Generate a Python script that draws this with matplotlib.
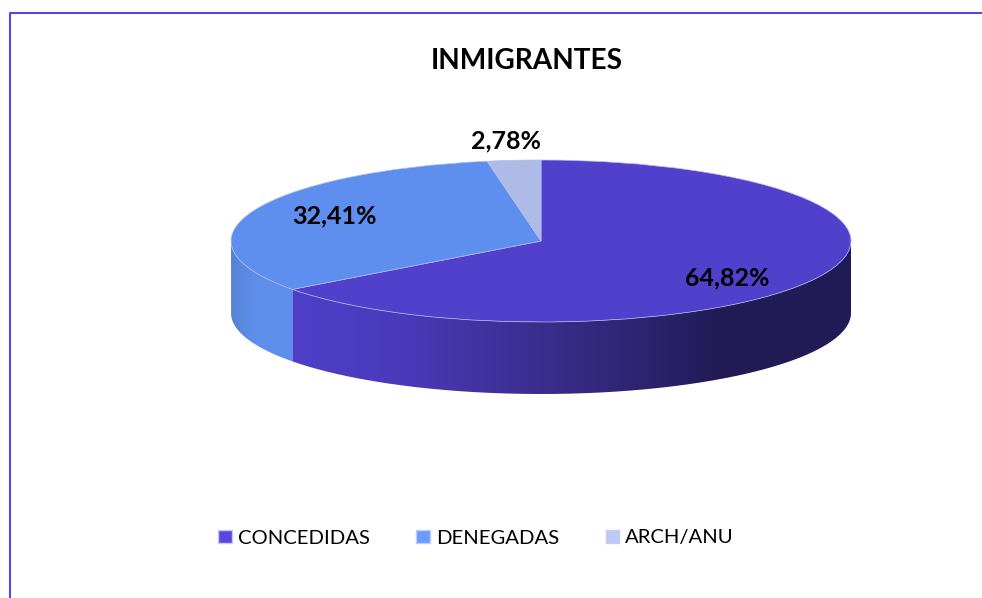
import numpy as np
from matplotlib import pyplot as plt
from matplotlib.patches import PathPatch, Patch
from matplotlib.path import Path
from matplotlib.colors import to_rgb

plt.rcParams['font.family'] = ['Lato', 'DejaVu Sans']

title = 'INMIGRANTES'
categories = ['CONCEDIDAS', 'DENEGADAS', 'ARCH/ANU']
values = [64.82, 32.41, 2.78]
top_colors = ['#5040CC', '#5E8EEE', '#AEBBE6']
legend_colors = ['#5A46DC', '#6A9CFF', '#BCCBF6']

W, H = 982, 598
cx, cy = 541, 241
rx, ry = 310, 81
depth = 72

fig = plt.figure(figsize=(W / 100, H / 100), dpi=100)

# background axes in picture pixels
bg = fig.add_axes([0, 0, 1, 1])
bg.set_xlim(0, W)
bg.set_ylim(H, 0)
bg.axis('off')

bg.plot([10, 10, W], [H, 12.5, 12.5], color='#5547E6', lw=1.5)


def side_path(a0, a1):
    # a0, a1 are clockwise angles from the top, front part of the rim only
    t = np.radians(np.linspace(a0, a1, 200))
    x = cx + rx * np.sin(t)
    y = cy - ry * np.cos(t)
    xs = np.concatenate([x, x[::-1], x[:1]])
    ys = np.concatenate([y, y[::-1] + depth, y[:1]])
    return Path(np.column_stack([xs, ys]))


def gradient(stops):
    xs = np.arange(cx - rx, cx + rx + 1)
    px = [s[0] for s in stops]
    rgb = np.array([to_rgb(s[1]) for s in stops])
    img = np.stack([np.interp(xs, px, rgb[:, i]) for i in range(3)], axis=-1)
    return img[np.newaxis, :, :]


def draw_side(a0, a1, stops):
    patch = PathPatch(side_path(a0, a1), fc='none', ec='none', transform=bg.transData)
    bg.add_patch(patch)
    im = bg.imshow(gradient(stops), extent=[cx - rx, cx + rx + 1, cy + ry + depth, cy - ry],
                   aspect='auto', interpolation='bilinear', zorder=1)
    im.set_clip_path(patch)


split = 360 * values[0] / sum(values)
draw_side(90, split, [(293, '#4F3FC8'), (400, '#4A3ABA'), (540, '#3B2D8E'),
                      (640, '#2E2470'), (720, '#211B56'), (851, '#211B56')])
draw_side(split, 270, [(232, '#5584D8'), (255, '#5E8EEA'), (293, '#5F8FEE')])
bg.set_xlim(0, W)
bg.set_ylim(H, 0)

# top face
ax = fig.add_axes([(cx - rx) / W, (H - cy - ry) / H, 2 * rx / W, 2 * ry / H])
ax.pie(values, colors=top_colors, startangle=90, counterclock=False, radius=1,
       wedgeprops={'edgecolor': '#B4BCEE', 'linewidth': 0.5})
ax.set_aspect('auto')
ax.set_xlim(-1, 1)
ax.set_ylim(-1, 1)
ax.patch.set_alpha(0)

bg.text(527, 61, title, ha='center', va='center', fontsize=20.2, fontweight='bold', color='black')

# labels go on the pie axes so they stay above the wedges
label_pos = [(727, 278), (334, 216), (506, 141)]
for v, (lx, ly) in zip(values, label_pos):
    ax.text(lx, ly, f'{v:.2f}%'.replace('.', ','), ha='center', va='center', transform=bg.transData,
            fontsize=18, fontweight='bold', color='black', zorder=5, clip_on=False)

handles = [Patch(facecolor=c, edgecolor='#C4CCF4', linewidth=1) for c in legend_colors]
fig.legend(handles, categories, loc='center', bbox_to_anchor=(476 / W, 1 - 538 / H), ncol=3,
           frameon=False, fontsize=14.6, handlelength=0.66, handleheight=0.66,
           handletextpad=0.3, columnspacing=2.3)

fig.savefig('out.png', dpi=100)
